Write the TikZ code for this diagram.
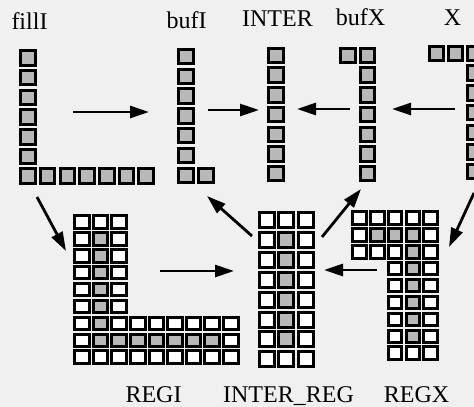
\documentclass[tikz,border=0pt]{standalone}
\usepackage{fontspec}
\setmainfont{Liberation Serif}
\usetikzlibrary{arrows.meta}
\definecolor{paper}{gray}{0.94}
\definecolor{dotgray}{gray}{0.72}
\begin{document}
\begin{tikzpicture}[x=1pt,y=-1pt,
  cell/.style={draw=black, line width=3pt, inner sep=0pt, rectangle},
  topcell/.style={cell, fill=dotgray, minimum width=14.5pt, minimum height=14.5pt},
  flow/.style={line width=2.8pt, -{Triangle[length=19pt,width=12pt]}},
  lab/.style={font=\fontsize{24}{28}\selectfont, anchor=base, inner sep=0pt}]
\fill[paper] (0,0) rectangle (474,407);
\useasboundingbox (0,0) rectangle (474,407);
\clip (0,0) rectangle (474,407);

% ---- upper row: one-dimensional buffers ----
% fillI : vertical column and bottom row
\foreach \i in {0,...,5} \node[topcell] (fillI-v\i) at (28,{58+19.7*\i}) {};
\foreach \j in {0,...,6} \node[topcell] (fillI-h\j) at ({28+19.7*\j},176) {};
% bufI
\foreach \i in {0,...,6} \node[topcell] (bufI-\i) at (186,{56.5+19.8*\i}) {};
\node[topcell] (bufI-x) at (206,175.3) {};
% INTER
\foreach \i in {0,...,6} \node[topcell] (inter-\i) at (276,{55.5+19.7*\i}) {};
% bufX
\foreach \i in {0,...,6} \node[topcell] (bufX-\i) at (367.5,{55.5+19.7*\i}) {};
\node[topcell] (bufX-x) at (348,55.5) {};
% X : top row and right column
\node[topcell] (X-h0) at (436.5,53.5) {};
\node[topcell] (X-h1) at (455.5,53.5) {};
\foreach \i in {0,...,6} \node[topcell] (X-v\i) at (474.5,{53.5+19.7*\i}) {};

% ---- lower row: register grids ----
% REGI
\foreach \r in {0,...,8} {
  \foreach \c in {0,...,8} {
    \pgfmathtruncatemacro\inside{(\c<3) || (\r>5)}
    \pgfmathtruncatemacro\dot{((\c==1) && (\r>0) && (\r<8)) || ((\r==7) && (\c>0) && (\c<8))}
    \ifnum\dot=1 \def\cf{dotgray}\else\def\cf{white}\fi
    \ifnum\inside=1
      \node[cell, fill=\cf, minimum width=14.6pt, minimum height=12.5pt]
        (regI-\r-\c) at ({82+18.6*\c},{222+16.9*\r}) {};
    \fi
  }
}
% INTER_REG
\foreach \r in {0,...,7} {
  \foreach \c in {0,1,2} {
    \pgfmathtruncatemacro\dot{(\c==1) && (\r>0) && (\r<7)}
    \ifnum\dot=1 \def\cf{dotgray}\else\def\cf{white}\fi
    \node[cell, fill=\cf, minimum width=15pt, minimum height=15pt]
      (interReg-\r-\c) at ({266.5+19.5*\c},{220+19.9*\r}) {};
  }
}
% REGX
\foreach \r in {0,...,8} {
  \foreach \c in {0,...,4} {
    \pgfmathtruncatemacro\inside{(\r<3) || (\c>1)}
    \pgfmathtruncatemacro\dot{((\r==1) && (\c>0) && (\c<4)) || ((\c==3) && (\r>1) && (\r<8))}
    \ifnum\dot=1 \def\cf{dotgray}\else\def\cf{white}\fi
    \ifnum\inside=1
      \node[cell, fill=\cf, minimum width=13.5pt, minimum height=12.5pt]
        (regX-\r-\c) at ({359.5+17.75*\c},{218+16.9*\r}) {};
    \fi
  }
}

% ---- labels ----
\node[lab] (lab-fillI) at (29.5,29) {fillI};
\node[lab] (lab-bufI) at (186.5,28) {bufI};
\node[lab] (lab-inter) at (277.5,26) {INTER};
\node[lab] (lab-bufX) at (360.5,25) {bufX};
\node[lab] (lab-X) at (452.5,25) {X};
\node[lab] (lab-regI) at (153.5,402) {REGI};
\node[lab] (lab-interReg) at (288.5,402) {INTER\_REG};
\node[lab] (lab-regX) at (416.5,402) {REGX};

% ---- data movements ----
\coordinate (fI-out) at (73,112);   \coordinate (bI-in) at (149,112);
\coordinate (bI-out) at (208,110);  \coordinate (in-l) at (259,110);
\coordinate (bX-out) at (350,109);  \coordinate (in-r) at (297,109);
\coordinate (X-out) at (455,109);   \coordinate (bX-in) at (392,109);
\coordinate (fI-down) at (37,197);  \coordinate (rI-in) at (66,251);
\coordinate (rI-out) at (160,271);  \coordinate (iR-l) at (234,271);
\coordinate (iR-ul) at (252,236);   \coordinate (bI-low) at (207,196);
\coordinate (iR-ur) at (322,237);   \coordinate (bX-low) at (361,189);
\coordinate (rX-out) at (377,270);  \coordinate (iR-r) at (324,270);
\coordinate (X-down) at (474,193);  \coordinate (rX-in) at (449,247);

\draw[flow] (fI-out) -- (bI-in);
\draw[flow] (bI-out) -- (in-l);
\draw[flow] (bX-out) -- (in-r);
\draw[flow] (X-out) -- (bX-in);
\draw[flow] (fI-down) -- (rI-in);
\draw[flow] (rI-out) -- (iR-l);
\draw[flow] (iR-ul) -- (bI-low);
\draw[flow] (iR-ur) -- (bX-low);
\draw[flow] (rX-out) -- (iR-r);
\draw[flow] (X-down) -- (rX-in);
\end{tikzpicture}
\end{document}
